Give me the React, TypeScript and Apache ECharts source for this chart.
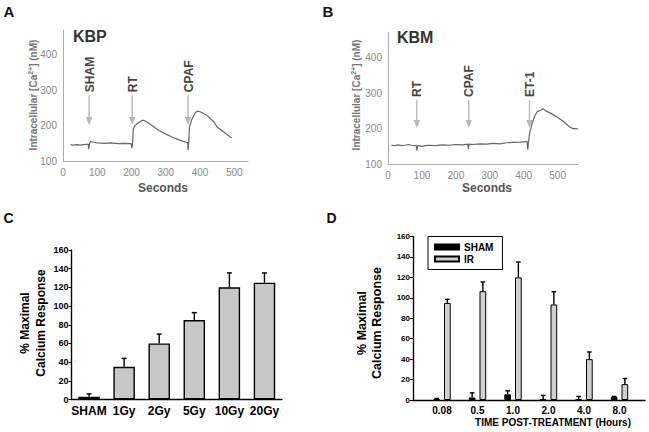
import React, { useEffect, useRef } from "react";
import * as echarts from "echarts";

// ---- Panel A (KBP) trace: [seconds, nM]
const traceA: number[][] = [
  [22, 146], [30, 145], [40, 146], [50, 145], [60, 146], [70, 147], [74, 147], [75, 133], [77, 148],
  [80, 155], [90, 153], [100, 151], [120, 150], [140, 151], [160, 149], [180, 150], [199, 149],
  [201, 136], [203, 148], [205, 190], [210, 200], [220, 208], [230, 214], [235, 215], [245, 210],
  [260, 200], [280, 186], [300, 176], [320, 167], [340, 159], [360, 153], [364, 152], [365, 131],
  [367, 150], [369, 195], [375, 215], [385, 235], [392, 241], [400, 239], [420, 229], [440, 211],
  [450, 196], [470, 181], [492, 165],
];
const arrowsAx = [76, 202, 365];
const arrowsAlabels = ["SHAM", "RT", "CPAF"];

// ---- Panel B (KBM) trace
const traceB: number[][] = [
  [10, 153], [20, 152], [30, 154], [40, 152], [50, 153], [60, 155], [70, 153], [80, 152], [84, 151],
  [85, 138], [87, 150], [90, 152], [100, 150], [110, 152], [120, 153], [140, 152], [160, 154],
  [180, 153], [200, 155], [220, 154], [235, 156], [237, 143], [239, 156], [250, 155], [270, 157],
  [290, 156], [310, 158], [330, 157], [350, 160], [370, 161], [390, 162], [405, 163], [410, 164],
  [412, 141], [414, 160], [418, 190], [425, 215], [432, 235], [440, 248], [450, 252], [457, 256],
  [465, 250], [480, 243], [500, 232], [520, 218], [535, 205], [545, 200], [555, 200], [560, 198],
];
const arrowsBx = [85, 238, 417];
const arrowsBlabels = ["RT", "CPAF", "ET-1"];

// ---- Panel C
const doses = ["SHAM", "1Gy", "2Gy", "5Gy", "10Gy", "20Gy"];
const doseValues = [3, 35, 60, 85, 120, 125];
const doseErrors = [3, 9, 10, 8, 15.5, 10.5];

// ---- Panel D
const times = ["0.08", "0.5", "1.0", "2.0", "4.0", "8.0"];
const shamValues = [1, 2.5, 5.5, 1, 1, 3];
const shamErrors = [0.5, 4.5, 3.5, 3.5, 2.5, 0.5];
const irValues = [95, 106.5, 120, 93.5, 40, 15.5];
const irErrors = [3.5, 9, 15, 12.5, 7, 5.5];

const FONT = "'Liberation Sans', Arial, sans-serif";

const hundreds = (v: number) => (v % 100 === 0 ? String(v) : "");

function arrowRenderer(labels: string[]) {
  return (params: any, api: any) => {
    const x = api.value(0);
    const p0 = api.coord([x, api.value(1)]);
    const p1 = api.coord([x, api.value(2)]);
    const c = "#b8b8b8";
    return {
      type: "group",
      children: [
        { type: "line", shape: { x1: p0[0], y1: p0[1], x2: p1[0], y2: p1[1] - 5 }, style: { stroke: c, lineWidth: 1.4 } },
        { type: "polygon", shape: { points: [[p1[0] - 3.2, p1[1] - 8], [p1[0] + 3.2, p1[1] - 8], [p1[0], p1[1]]] }, style: { fill: c } },
        {
          type: "text", x: p0[0] + 0.5, y: p0[1] - 3, rotation: Math.PI / 2,
          style: { text: labels[params.dataIndex], align: "left", verticalAlign: "middle", fontFamily: FONT, fontWeight: "bold", fontSize: 12, fill: "#444" },
        },
      ],
    };
  };
}

function errRenderer(offset: number, cap: number) {
  return (_params: any, api: any) => {
    const i = api.value(0);
    const v = api.value(1);
    const e = api.value(2);
    const b = api.coord([i, v]);
    const t = api.coord([i, v + e]);
    const x = b[0] + offset;
    return {
      type: "group",
      children: [
        { type: "line", shape: { x1: x, y1: b[1], x2: x, y2: t[1] }, style: { stroke: "#000", lineWidth: 1.4 } },
        { type: "line", shape: { x1: x - cap, y1: t[1], x2: x + cap, y2: t[1] }, style: { stroke: "#000", lineWidth: 1.4 } },
      ],
    };
  };
}

export default function App() {
  const ref = useRef<HTMLDivElement>(null);
  useEffect(() => {
    if (!ref.current) return;
    const chart = echarts.init(ref.current, undefined, { renderer: "svg" });

    const grayAxis = (min: number, max: number) => ({
      type: "value", min, max, interval: 100,
      axisLine: { show: true, onZero: false, lineStyle: { color: "#aaa", width: 1 } },
      axisTick: { show: false }, splitLine: { show: false },
      axisLabel: { color: "#888", fontSize: 10, fontFamily: FONT, margin: 6, formatter: hundreds },
    });
    const blackY = (grid: number, labelSize: number) => ({
      gridIndex: grid, type: "value", min: 0, max: 160, interval: 20,
      axisLine: { show: true, lineStyle: { color: "#000", width: 1.4 } },
      axisTick: { show: true, length: 3, lineStyle: { color: "#000", width: 1 } },
      splitLine: { show: false },
      axisLabel: { color: "#000", fontSize: labelSize, fontWeight: "bold", fontFamily: FONT, margin: 3 },
    });

    const option: any = {
      animation: false,
      grid: [
        { left: 63, top: 30, width: 185, height: 131 },
        { left: 388, top: 33, width: 190, height: 131 },
        { left: 71.5, top: 250, width: 210.5, height: 149.5 },
        { left: 413, top: 236.5, width: 232, height: 163.5 },
        { left: 424.25, top: 236.5, width: 213, height: 163.5 },
      ],
      xAxis: [
        { gridIndex: 0, ...grayAxis(0, 540) },
        { gridIndex: 1, ...grayAxis(0, 560) },
        {
          gridIndex: 2, type: "category", data: doses,
          axisLine: { lineStyle: { color: "#000", width: 1.4 } }, axisTick: { show: false },
          axisLabel: { color: "#000", fontSize: 12, fontWeight: "bold", fontFamily: FONT, margin: 5, interval: 0 },
        },
        {
          gridIndex: 3, type: "value", min: 0, max: 1,
          axisLine: { show: true, onZero: false, lineStyle: { color: "#000", width: 1.4 } },
          axisTick: { show: false }, axisLabel: { show: false }, splitLine: { show: false },
        },
        {
          gridIndex: 4, type: "category", data: times,
          axisLine: { show: false }, axisTick: { show: false },
          axisLabel: { color: "#000", fontSize: 10, fontWeight: "bold", fontFamily: FONT, margin: 5, interval: 0 },
        },
      ],
      yAxis: [
        { gridIndex: 0, ...grayAxis(100, 470) },
        { gridIndex: 1, ...grayAxis(100, 470) },
        blackY(2, 9),
        blackY(3, 8),
        { gridIndex: 4, type: "value", min: 0, max: 160, show: false },
      ],
      legend: {
        data: ["SHAM", "IR"], orient: "vertical", left: 428, top: 236.5,
        itemWidth: 24, itemHeight: 5, itemGap: 1, padding: [5, 9, 5, 6],
        borderColor: "#000", borderWidth: 1, icon: "rect", selectedMode: false,
        textStyle: { fontFamily: FONT, fontWeight: "bold", fontSize: 10, color: "#000", lineHeight: 11 },
      },
      series: [
        { type: "line", xAxisIndex: 0, yAxisIndex: 0, data: traceA, showSymbol: false, lineStyle: { color: "#666", width: 1.2 } },
        {
          type: "custom", xAxisIndex: 0, yAxisIndex: 0, encode: { x: 0, y: 1 }, clip: false,
          data: arrowsAx.map((x) => [x, 286, 202]), renderItem: arrowRenderer(arrowsAlabels),
        },
        { type: "line", xAxisIndex: 1, yAxisIndex: 1, data: traceB, showSymbol: false, lineStyle: { color: "#666", width: 1.2 } },
        {
          type: "custom", xAxisIndex: 1, yAxisIndex: 1, encode: { x: 0, y: 1 }, clip: false,
          data: arrowsBx.map((x) => [x, 281, 202]), renderItem: arrowRenderer(arrowsBlabels),
        },
        {
          type: "bar", name: "dose", xAxisIndex: 2, yAxisIndex: 2, data: doseValues, barWidth: 21.5,
          itemStyle: { color: "#c8c8c8", borderColor: "#000", borderWidth: 1.4 },
        },
        {
          type: "custom", xAxisIndex: 2, yAxisIndex: 2, encode: { x: 0, y: 1 }, z: 5,
          data: doseValues.map((v, i) => [i, v, doseErrors[i]]), renderItem: errRenderer(0, 2.5),
        },
        {
          type: "bar", name: "SHAM", xAxisIndex: 4, yAxisIndex: 4, data: shamValues, barWidth: 6.7, barGap: "60%",
          itemStyle: { color: "#000", borderColor: "#000", borderWidth: 1 },
        },
        {
          type: "bar", name: "IR", xAxisIndex: 4, yAxisIndex: 4, data: irValues, barWidth: 6.7, barGap: "60%",
          itemStyle: { color: "#d0d0d0", borderColor: "#000", borderWidth: 1 },
        },
        {
          type: "custom", xAxisIndex: 4, yAxisIndex: 4, encode: { x: 0, y: 1 }, z: 5,
          data: shamValues.map((v, i) => [i, v, shamErrors[i]]), renderItem: errRenderer(-5.36, 2.3),
        },
        {
          type: "custom", xAxisIndex: 4, yAxisIndex: 4, encode: { x: 0, y: 1 }, z: 5,
          data: irValues.map((v, i) => [i, v, irErrors[i]]), renderItem: errRenderer(5.36, 2.3),
        },
      ],
      graphic: [
        { type: "text", x: 9, y: 11, style: { text: "A", align: "center", verticalAlign: "middle", fontFamily: FONT, fontWeight: "bold", fontSize: 15, fill: "#111" } },
        { type: "text", x: 328, y: 11, style: { text: "B", align: "center", verticalAlign: "middle", fontFamily: FONT, fontWeight: "bold", fontSize: 15, fill: "#111" } },
        { type: "text", x: 8.5, y: 217.5, style: { text: "C", align: "center", verticalAlign: "middle", fontFamily: FONT, fontWeight: "bold", fontSize: 14, fill: "#111" } },
        { type: "text", x: 331.5, y: 218, style: { text: "D", align: "center", verticalAlign: "middle", fontFamily: FONT, fontWeight: "bold", fontSize: 14, fill: "#111" } },
        { type: "text", x: 73, y: 36, style: { text: "KBP", align: "left", verticalAlign: "middle", fontFamily: FONT, fontWeight: "bold", fontSize: 16, fill: "#333" } },
        { type: "text", x: 397, y: 37.5, style: { text: "KBM", align: "left", verticalAlign: "middle", fontFamily: FONT, fontWeight: "bold", fontSize: 16, fill: "#333" } },
        { type: "text", x: 163, y: 188, style: { text: "Seconds", align: "center", verticalAlign: "middle", fontFamily: FONT, fontWeight: "bold", fontSize: 12, fill: "#555" } },
        { type: "text", x: 487, y: 188, style: { text: "Seconds", align: "center", verticalAlign: "middle", fontFamily: FONT, fontWeight: "bold", fontSize: 12, fill: "#555" } },
        {
          type: "text", x: 33.5, y: 95, rotation: Math.PI / 2,
          style: {
            text: "Intracellular [Ca{sup|2+}] (nM)", align: "center", verticalAlign: "middle",
            fontFamily: FONT, fontWeight: "bold", fontSize: 10, fill: "#777",
            rich: { sup: { fontSize: 7, fontWeight: "bold", fontFamily: FONT, fill: "#777", padding: [0, 0, 6, 0] } },
          },
        },
        {
          type: "text", x: 356, y: 95, rotation: Math.PI / 2,
          style: {
            text: "Intracellular [Ca{sup|2+}] (nM)", align: "center", verticalAlign: "middle",
            fontFamily: FONT, fontWeight: "bold", fontSize: 10, fill: "#777",
            rich: { sup: { fontSize: 7, fontWeight: "bold", fontFamily: FONT, fill: "#777", padding: [0, 0, 6, 0] } },
          },
        },
        {
          type: "text", x: 32.75, y: 323, rotation: Math.PI / 2,
          style: { text: "% Maximal\nCalcium Response", align: "center", verticalAlign: "middle", lineHeight: 15.5, fontFamily: FONT, fontWeight: "bold", fontSize: 12, fill: "#000" },
        },
        {
          type: "text", x: 369.2, y: 323, rotation: Math.PI / 2,
          style: { text: "% Maximal\nCalcium Response", align: "center", verticalAlign: "middle", lineHeight: 15, fontFamily: FONT, fontWeight: "bold", fontSize: 12.5, fill: "#000" },
        },
        { type: "text", x: 553, y: 422, style: { text: "TIME POST-TREATMENT (Hours)", align: "center", verticalAlign: "middle", fontFamily: FONT, fontWeight: "bold", fontSize: 10, fill: "#000" } },
      ],
    };
    chart.setOption(option);
    return () => chart.dispose();
  }, []);
  return (
    <div
      ref={ref}
      style={{ position: "fixed", left: 0, top: 0, width: 649, height: 432, background: "#fff" }}
    />
  );
}
